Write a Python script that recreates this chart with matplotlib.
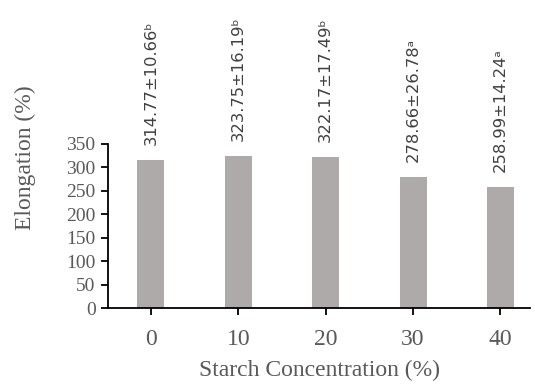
import matplotlib
matplotlib.use("Agg")
import matplotlib.pyplot as plt
from matplotlib.transforms import offset_copy

concentrations = ["0", "10", "20", "30", "40"]
elongation = [314.77, 323.75, 322.17, 278.66, 258.99]
labels = ["314.77±10.66ᵇ", "323.75±16.19ᵇ", "322.17±17.49ᵇ",
          "278.66±26.78ᵃ", "258.99±14.24ᵃ"]

TEXT_GRAY = "#595959"


def main():
    fig = plt.figure(figsize=(5.35, 3.87), dpi=100)
    ax = fig.add_axes([0.202, 0.204, 0.789, 0.424])

    x = list(range(len(concentrations)))
    ax.bar(x, elongation, width=0.31, color="#aeaaaa", zorder=2)

    # value labels above bars, rotated like the original
    trans = offset_copy(ax.transData, fig=fig, x=0, y=15, units="dots")
    for xi, yi, lab in zip(x, elongation, labels):
        ax.text(xi, yi, lab, transform=trans, rotation=90, ha="center",
                va="bottom", fontsize=11.8, color="#404040",
                family="DejaVu Sans")

    ax.set_xlim(-0.49, 4.34)
    ax.set_ylim(0, 350)
    ax.set_yticks(range(0, 351, 50))
    ax.set_xticks(x)
    ax.set_xticklabels(concentrations)

    for side in ("top", "right"):
        ax.spines[side].set_visible(False)
    ax.spines["left"].set_linewidth(1.3)
    ax.spines["bottom"].set_linewidth(1.3)

    ax.tick_params(axis="y", direction="out", length=5, width=1.3,
                   labelsize=14, labelcolor=TEXT_GRAY, pad=4)
    ax.tick_params(axis="x", direction="out", length=5, width=1.3,
                   labelsize=17, labelcolor=TEXT_GRAY, pad=10)
    for lab in ax.get_xticklabels() + ax.get_yticklabels():
        lab.set_family("Liberation Serif")

    ax.set_xlabel("Starch Concentration (%)", family="Liberation Serif",
                  fontsize=17, color=TEXT_GRAY, labelpad=7)
    fig.text(0.047, 0.592, "Elongation (%)", rotation=90, ha="center",
             va="center", family="Liberation Serif", fontsize=17,
             color=TEXT_GRAY)

    fig.savefig("out.png", dpi=100)


if __name__ == "__main__":
    main()
